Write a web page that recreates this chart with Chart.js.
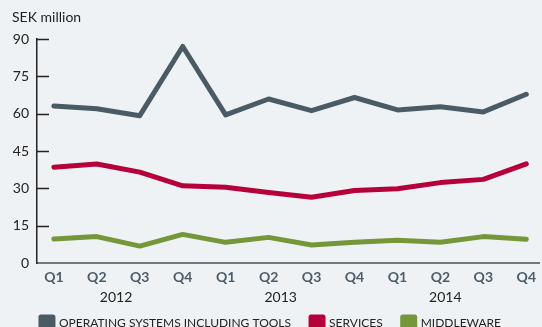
<!DOCTYPE html>
<html>
<head>
<meta charset="utf-8">
<script src="https://cdn.jsdelivr.net/npm/chart.js@4/dist/chart.umd.min.js"></script>
<style>
html,body{margin:0;padding:0;background:#eef2f5;}
#wrap{position:relative;width:542px;height:327px;}
</style>
</head>
<body>
<div id="wrap"><canvas id="c" width="542" height="327"></canvas></div>
<script>
const quarters = ['Q1','Q2','Q3','Q4','Q1','Q2','Q3','Q4','Q1','Q2','Q3','Q4'];
const years = ['2012','2013','2014'];
const yTicks = [0,15,30,45,60,75,90];
const osTools = [63.1,62.0,59.2,87.0,59.5,65.9,61.2,66.5,61.5,62.8,60.7,67.8];
const services = [38.5,39.8,36.5,31.0,30.4,28.3,26.4,29.1,29.8,32.3,33.6,39.8];
const middleware = [9.6,10.6,6.8,11.5,8.3,10.3,7.2,8.3,9.1,8.3,10.6,9.5];
const seriesNames = ['OPERATING SYSTEMS INCLUDING TOOLS','SERVICES','MIDDLEWARE'];
const colors = ['#4b5b66','#b5003a','#76963a'];

const FONT = 'Lato, "Open Sans", sans-serif';
const toPts = arr => arr.map((v,i)=>({x:i,y:v}));

const extras = {
  id:'extras',
  afterDraw(chart){
    const ctx = chart.ctx;
    const y = chart.scales.y, x = chart.scales.x;
    ctx.save();
    ctx.strokeStyle = '#222';
    ctx.lineWidth = 1.5;
    yTicks.forEach(v=>{
      if(v===0) return;
      const py = Math.round(y.getPixelForValue(v))+0.5;
      ctx.beginPath();
      ctx.moveTo(x.left, py);
      ctx.lineTo(x.left+12, py);
      ctx.stroke();
    });
    ctx.fillStyle = '#222';
    ctx.font = '14px ' + FONT;
    ctx.textAlign = 'left';
    ctx.textBaseline = 'middle';
    ctx.fillText('SEK million', 12, 17);
    ctx.textAlign = 'center';
    years.forEach((yr,k)=>{
      const v = -0.47 + (k+0.5)*11.5/3;
      ctx.fillText(yr, x.getPixelForValue(v), 297);
    });
    ctx.restore();
  }
};

new Chart(document.getElementById('c'), {
  type:'line',
  data:{
    datasets:[
      {label:seriesNames[0], data:toPts(osTools), borderColor:colors[0], backgroundColor:colors[0]},
      {label:seriesNames[1], data:toPts(services), borderColor:colors[1], backgroundColor:colors[1]},
      {label:seriesNames[2], data:toPts(middleware), borderColor:colors[2], backgroundColor:colors[2]}
    ].map(d=>Object.assign(d,{borderWidth:5, pointRadius:0, tension:0, borderJoinStyle:'round', borderCapStyle:'round', fill:false}))
  },
  options:{
    responsive:false,
    animation:false,
    layout:{padding:{left:0,right:0,top:39,bottom:-12}},
    scales:{
      x:{
        type:'linear', min:-0.393, max:11.3,
        afterBuildTicks(s){ s.ticks = quarters.map((q,i)=>({value:i})); },
        afterFit(s){ s.height = 34; },
        grid:{display:false, drawTicks:false},
        border:{display:true, color:'#777', width:2},
        ticks:{
          autoSkip:false, maxRotation:0, padding:6,
          color:'#4d5c67', font:{family:FONT, size:14, weight:'bold'},
          callback:(v)=>quarters[v]
        }
      },
      y:{
        min:0, max:90,
        afterBuildTicks(s){ s.ticks = yTicks.map(v=>({value:v})); },
        afterFit(s){ s.width = 37; },
        grid:{display:false, drawTicks:false},
        border:{display:true, color:'#222', width:1.5},
        ticks:{padding:8, color:'#222', font:{family:FONT, size:14}}
      }
    },
    plugins:{
      legend:{
        position:'bottom',
        labels:{boxWidth:12, boxHeight:12, padding:20, color:'#222', font:{family:FONT, size:12}}
      },
      tooltip:{enabled:false}
    }
  },
  plugins:[extras]
});
</script>
</body>
</html>
